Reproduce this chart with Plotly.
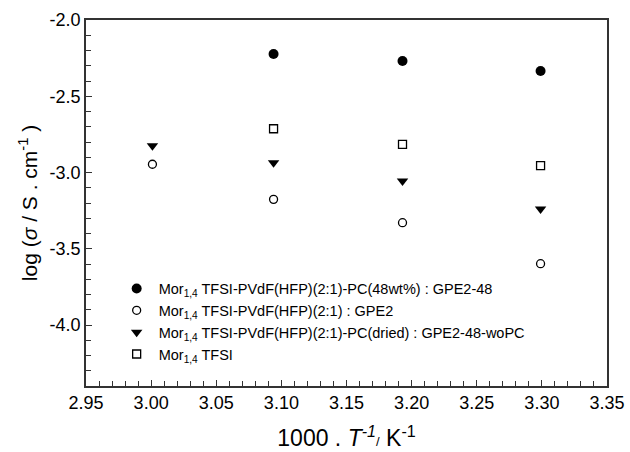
import plotly.graph_objects as go

x4 = [3.094, 3.193, 3.299]
gpe2_48 = [-2.223, -2.269, -2.334]
x_gpe2 = [3.001, 3.094, 3.193, 3.299]
gpe2 = [-2.946, -3.176, -3.329, -3.598]
gpe2_wopc = [-2.824, -2.936, -3.056, -3.239]
tfsi = [-2.713, -2.815, -2.955]

x_ticks = [2.95, 3.00, 3.05, 3.10, 3.15, 3.20, 3.25, 3.30, 3.35]
x_ticktext = ["2.95", "3.00", "3.05", "3.10", "3.15", "3.20", "3.25", "3.30", "3.35"]
y_ticks = [-2.0, -2.5, -3.0, -3.5, -4.0]
y_ticktext = ["-2.0", "-2.5", "-3.0", "-3.5", "-4.0"]

names = [
    "Mor<sub>1,4</sub> TFSI-PVdF(HFP)(2:1)-PC(48wt%) : GPE2-48",
    "Mor<sub>1,4</sub> TFSI-PVdF(HFP)(2:1) : GPE2",
    "Mor<sub>1,4</sub> TFSI-PVdF(HFP)(2:1)-PC(dried) : GPE2-48-woPC",
    "Mor<sub>1,4</sub> TFSI",
]

fig = go.Figure()
fig.add_trace(go.Scatter(x=x4, y=gpe2_48, mode="markers", name=names[0],
                         marker=dict(symbol="circle", size=10, color="black")))
fig.add_trace(go.Scatter(x=x_gpe2, y=gpe2, mode="markers", name=names[1],
                         marker=dict(symbol="circle-open", size=8, color="black", line=dict(width=1.3))))
fig.add_trace(go.Scatter(x=x_gpe2, y=gpe2_wopc, mode="markers", name=names[2],
                         marker=dict(symbol="triangle-down", size=10, color="black")))
fig.add_trace(go.Scatter(x=x4, y=tfsi, mode="markers", name=names[3],
                         marker=dict(symbol="square-open", size=8, color="black", line=dict(width=1.3))))

axis_common = dict(showline=True, linecolor="#333333", linewidth=1.5, mirror=True,
                   ticks="inside", ticklen=6, tickwidth=1, tickcolor="#333333",
                   showgrid=False, zeroline=False, automargin=False,
                   tickfont=dict(size=18, color="black", family="Liberation Sans, Arial"))

fig.update_layout(
    width=630, height=452,
    margin=dict(l=86, r=23, t=20, b=66),
    paper_bgcolor="white", plot_bgcolor="white",
    font=dict(family="Liberation Sans, Arial", color="black"),
    xaxis=dict(range=[2.95, 3.35], tickvals=x_ticks, ticktext=x_ticktext,
               minor=dict(dtick=0.01, ticks="inside", ticklen=5, tickcolor="#333333"),
               title=dict(text="1000 . <i>T</i><sup><i>-1</i></sup><span style='font-size:13px'>/</span> K<sup>-1</sup>",
                          font=dict(size=23), standoff=18),
               **axis_common),
    yaxis=dict(range=[-4.4, -2.0], tickvals=y_ticks, ticktext=y_ticktext,
               minor=dict(dtick=0.1, ticks="inside", ticklen=5, tickcolor="#333333"),
               title=dict(text="log (<i>σ</i> / S . cm<sup>-1</sup> )", font=dict(size=21), standoff=6),
               **axis_common),
    legend=dict(x=0.055, y=0.31, xanchor="left", yanchor="top",
                bgcolor="rgba(0,0,0,0)", font=dict(size=14.5), itemwidth=34,
                tracegroupgap=0),
    showlegend=True,
)

fig.write_html("out.html")
